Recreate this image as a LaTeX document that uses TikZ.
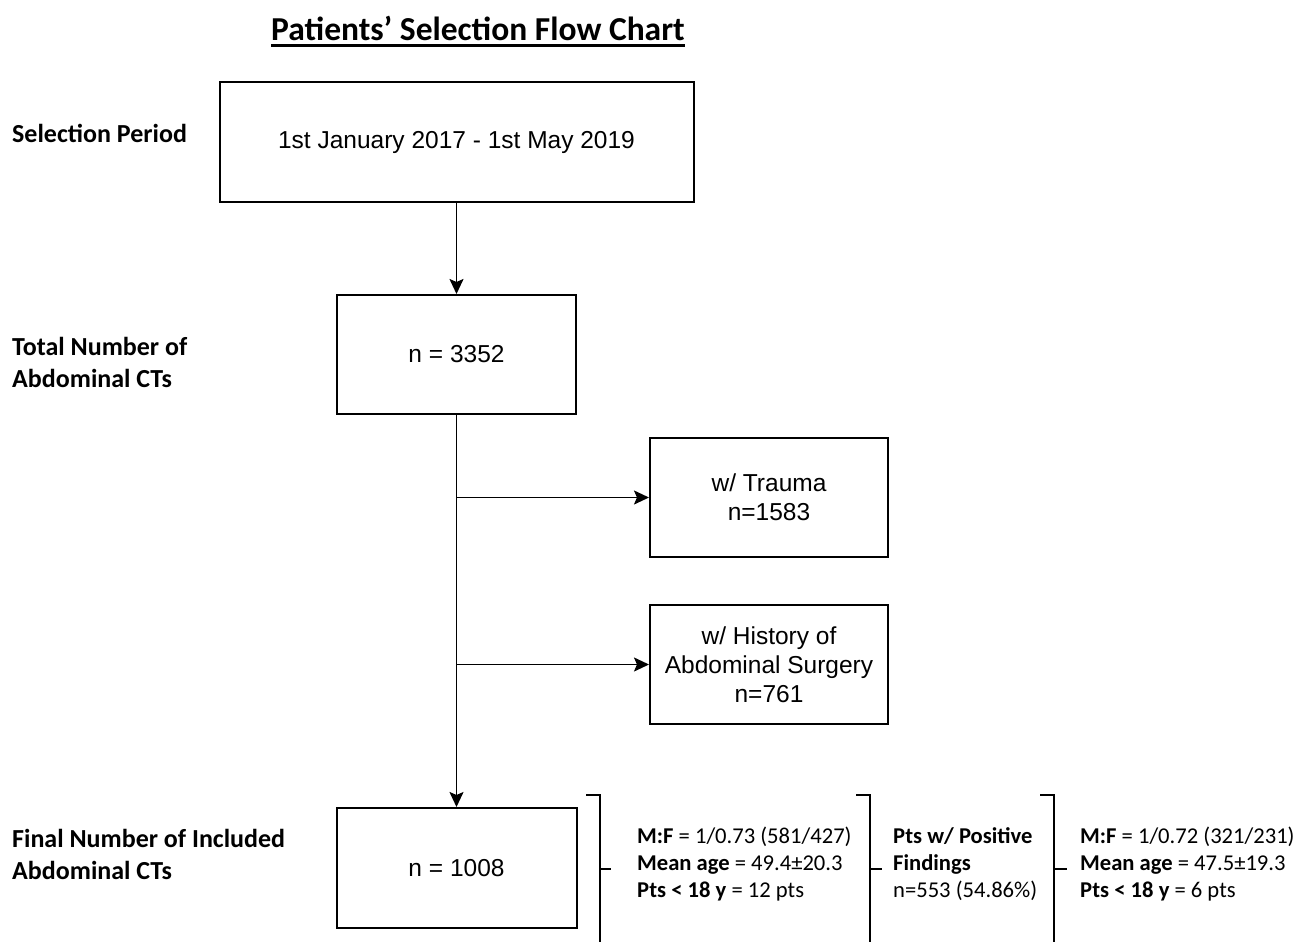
\documentclass[tikz,border=0pt]{standalone}
\usepackage{fontspec}
\setmainfont{Carlito}
\newfontfamily\boxfont{Liberation Sans}
\usetikzlibrary{arrows.meta,calc}

\begin{document}
\begin{tikzpicture}[x=1pt, y=-1pt,
    stage/.style={draw, line width=2pt, rectangle, align=center, inner sep=0,
        font=\boxfont\fontsize{24.5}{29}\selectfont},
    side/.style={anchor=west, inner sep=0, align=left,
        font=\bfseries\fontsize{26}{32}\selectfont},
    info/.style={anchor=west, inner sep=0, align=left,
        font=\fontsize{22.6}{27}\selectfont},
    flow/.style={line width=1.8pt, -{Stealth[length=15pt,width=14pt,inset=3pt]}},
    brk/.style={line width=1.8pt}]

    \useasboundingbox (0,0) rectangle (1295,942);

    % title
    \node[inner sep=0, font=\bfseries\fontsize{33.5}{40}\selectfont] (title) at (478,28) {Patients’ Selection Flow Chart};
    \draw[line width=2.4pt] ([yshift=-5.5pt]title.base west) -- ([yshift=-5.5pt]title.base east);

    % stages
    \node[stage, minimum width=474, minimum height=120] (period) at (456.5,142) {1st January 2017 - 1st May 2019};
    \node[stage, minimum width=239, minimum height=119] (total) at (456.5,354.5) {n = 3352};
    \node[stage, minimum width=238, minimum height=119] (trauma) at (769,497.5) {w/ Trauma\\n=1583};
    \node[stage, minimum width=238, minimum height=119] (surgery) at (769,664.5) {w/ History of\\Abdominal Surgery\\n=761};
    \node[stage, minimum width=240, minimum height=120] (final) at (456.5,868) {n = 1008};

    % row labels
    \node[side] (lperiod) at (12,133) {Selection Period};
    \node[side] (ltotal) at (12,362) {Total Number of\\Abdominal CTs};
    \node[side] (lfinal) at (12,854) {Final Number of Included\\Abdominal CTs};

    % connectors
    \coordinate (jtrauma) at (456.5,497.5);
    \coordinate (jsurgery) at (456.5,664.5);
    \draw[flow] (period) -- (total);
    \draw[flow] (total) -- (final);
    \draw[flow] (jtrauma) -- (trauma);
    \draw[flow] (jsurgery) -- (surgery);

    % brackets
    \draw[brk] (586,795) -- (600,795) -- (600,942);
    \draw[brk] (600,869) -- (611,869);
    \draw[brk] (856,795) -- (870,795) -- (870,942);
    \draw[brk] (870,869) -- (882,869);
    \draw[brk] (1040,795) -- (1054,795) -- (1054,942);
    \draw[brk] (1054,869) -- (1067,869);

    % summaries
    \node[info] (allstats) at (637,864) {\textbf{M:F} = 1/0.73 (581/427)\\\textbf{Mean age} = 49.4±20.3\\\textbf{Pts < 18 y} = 12 pts};
    \node[info] (positive) at (893,864) {\textbf{Pts w/ Positive}\\\textbf{Findings}\\n=553 (54.86\%)};
    \node[info] (posstats) at (1080,864) {\textbf{M:F} = 1/0.72 (321/231)\\\textbf{Mean age} = 47.5±19.3\\\textbf{Pts < 18 y} = 6 pts};

\end{tikzpicture}
\end{document}
